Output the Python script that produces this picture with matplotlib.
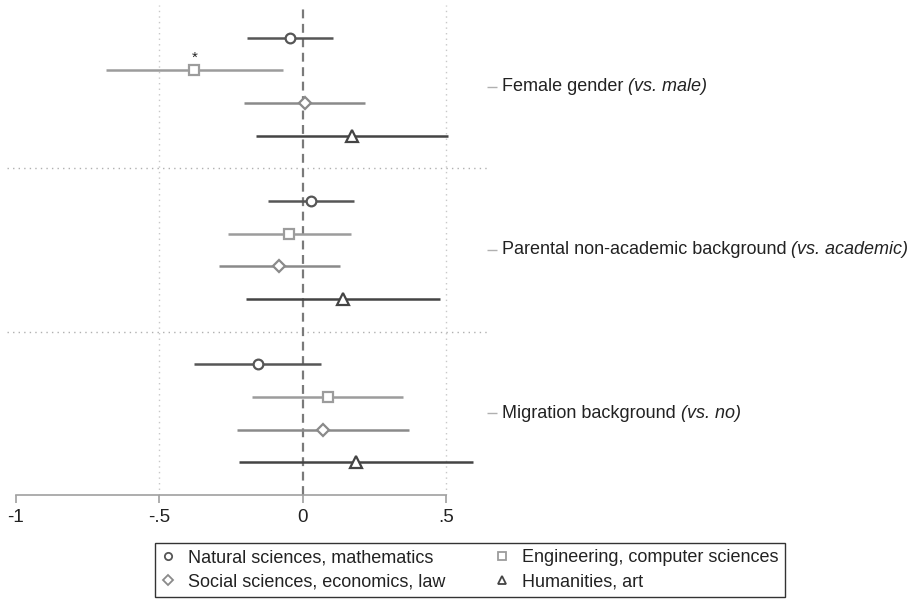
import matplotlib.pyplot as plt
from matplotlib.lines import Line2D

plt.rcParams['font.family'] = ['Liberation Sans', 'DejaVu Sans']

# Kategoriler (sağdaki etiketler)
groups = ["Female gender", "Parental non-academic background", "Migration background"]
group_refs = ["(vs. male)", "(vs. academic)", "(vs. no)"]

fields = ["Natural sciences, mathematics", "Engineering, computer sciences",
          "Social sciences, economics, law", "Humanities, art"]

# Tahminler ve güven aralıkları (grup sırasına göre)
nat_est = [-0.044, 0.027, -0.156]
nat_lo = [-0.193, -0.123, -0.378]
nat_hi = [0.107, 0.178, 0.065]

eng_est = [-0.378, -0.049, 0.087]
eng_lo = [-0.687, -0.262, -0.176]
eng_hi = [-0.070, 0.167, 0.351]

soc_est = [0.006, -0.082, 0.071]
soc_lo = [-0.206, -0.291, -0.230]
soc_hi = [0.218, 0.131, 0.371]

hum_est = [0.173, 0.139, 0.184]
hum_lo = [-0.162, -0.197, -0.223]
hum_hi = [0.508, 0.477, 0.592]

eng_stars = ["*", "", ""]

xticks = [-1, -0.5, 0, 0.5]
xticklabels = ["-1", "-.5", "0", ".5"]

series = [
    (nat_est, nat_lo, nat_hi, 'o', '#565656', 7.0),
    (eng_est, eng_lo, eng_hi, 's', '#9c9c9c', 7.0),
    (soc_est, soc_lo, soc_hi, 'D', '#8a8a8a', 6.5),
    (hum_est, hum_lo, hum_hi, '^', '#444444', 8.0),
]

fig = plt.figure(figsize=(9.21, 6.08), dpi=100)
ax = fig.add_axes([0.008, 0.186, 0.521, 0.806])

# Izgara çizgileri
for gx in [-0.5, 0.5]:
    ax.axvline(gx, color='#c8c8c8', lw=1, ls=(0, (1, 3)), zorder=0)
ax.axvline(0, color='#7a7a7a', lw=1.6, ls=(0, (4, 2.5)), zorder=1)
for sep in [5, 10]:
    ax.axhline(sep, color='#b0b0b0', lw=1, ls=(0, (1, 3)), zorder=0)

for g in range(len(groups)):
    for k, (est, lo, hi, mk, col, ms) in enumerate(series):
        y = g * 5 + k + 1
        ax.plot([lo[g], hi[g]], [y, y], color=col, lw=1.8, zorder=2, solid_capstyle='butt')
        ax.plot(est[g], y, marker=mk, ms=ms, mfc='white', mec=col, mew=1.6, zorder=3)
    if eng_stars[g]:
        ax.annotate(eng_stars[g], (eng_est[g], g * 5 + 2), xytext=(0, 4),
                    textcoords='offset points', ha='center', va='bottom',
                    fontsize=11, color='#222222')

ax.set_xlim(-1.03, 0.643)
ax.set_ylim(15, 0)

for s in ['top', 'left', 'right']:
    ax.spines[s].set_visible(False)
ax.spines['bottom'].set_bounds(-1, 0.5)
ax.spines['bottom'].set_color('#a0a0a0')
ax.spines['bottom'].set_linewidth(1.2)
ax.set_xticks(xticks)
ax.set_xticklabels(xticklabels, fontsize=13.5, color='#222222')
ax.tick_params(axis='x', length=6, width=1.2, color='#a0a0a0', pad=4)

# Sağdaki etiketler
ax.yaxis.tick_right()
ax.set_yticks([2.5, 7.5, 12.5])
ax.set_yticklabels([])
ax.tick_params(axis='y', length=7, width=1, color='#b0b0b0')
for g, (lab, ref) in enumerate(zip(groups, group_refs)):
    t = ax.annotate(lab + " ", (1, g * 5 + 2.5), xycoords=('axes fraction', 'data'),
                    xytext=(10.5, 0), textcoords='offset points', ha='left', va='center',
                    fontsize=13, color='#222222')
    ax.annotate(ref, xy=(1, 0.5), xycoords=t, ha='left', va='center',
                fontsize=13, color='#222222', style='italic')

handles = [Line2D([], [], ls='none', marker=mk, ms=ms * 0.75, mfc='white', mec=col, mew=1.3)
           for (_, _, _, mk, col, ms) in series]
order = [0, 2, 1, 3]
leg = fig.legend([handles[i] for i in order], [fields[i] for i in order],
                 loc='center', bbox_to_anchor=(0.510, 0.0625), ncol=2,
                 fontsize=13, frameon=True, fancybox=False, edgecolor='black',
                 handletextpad=0.68, columnspacing=2.75, borderpad=0.35,
                 labelspacing=0.4, handlelength=0.8)
leg.get_frame().set_linewidth(1)
for txt in leg.get_texts():
    txt.set_color('#222222')

fig.savefig('out.png', dpi=100)
